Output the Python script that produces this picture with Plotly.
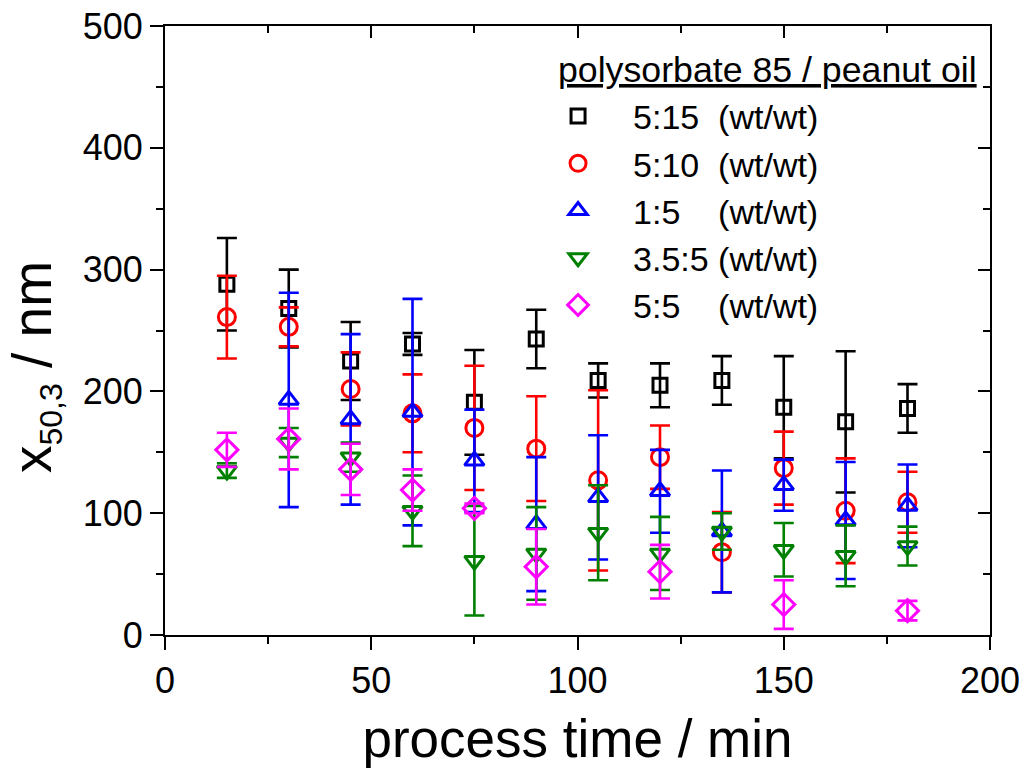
import plotly.graph_objects as go

# ---- data ----
times = [15, 30, 45, 60, 75, 90, 105, 120, 135, 150, 165, 180]

names = ["5:15\u00a0\u00a0(wt/wt)", "5:10\u00a0\u00a0(wt/wt)", "1:5\u00a0\u00a0\u00a0\u00a0(wt/wt)",
         "3.5:5\u00a0(wt/wt)", "5:5\u00a0\u00a0\u00a0\u00a0(wt/wt)"]

v_5_15 = [288, 268, 225, 239, 191, 243, 209, 205, 209, 187, 175, 186]
e_5_15 = [38, 32, 32, 9, 43, 24, 14, 18, 20, 42, 58, 20]

v_5_10 = [261, 253, 202, 182, 170, 153, 127, 146, 68, 137, 102, 109]
e_5_10 = [34, 16, 30, 32, 51, 43, 74, 26, 33, 30, 43, 25]

v_1_5 = [None, 193, 177, 183, 143, 91, 113, 118, 85, 123, 94, 106]
e_1_5 = [None, 88, 70, 93, 42, 55, 51, 34, 50, 21, 48, 34]

v_35_5 = [135, 158, 146, 102, 61, 67, 84, 67, 85, 70, 65, 73]
e_35_5 = [6, 12, 12, 29, 45, 38, 39, 30, 15, 22, 25, 16]

v_5_5 = [152, 161, 136, 119, 104, 56, None, 52, None, 25, None, 20]
e_5_5 = [14, 25, 21, 17, 4, 31, None, 22, None, 20, None, 8]

values = [v_5_15, v_5_10, v_1_5, v_35_5, v_5_5]
errors = [e_5_15, e_5_10, e_1_5, e_35_5, e_5_5]

colors = ["#000000", "#FF0000", "#0000FF", "#008000", "#FF00FF"]
symbols = ["square-open", "circle-open", "triangle-up-open", "triangle-down-open", "diamond-open"]
sizes = [14, 17, 17, 17, 17]

FONT = "Liberation Sans, Arial, sans-serif"

fig = go.Figure()
for name, v, e, c, s, sz in zip(names, values, errors, colors, symbols, sizes):
    fig.add_trace(go.Scatter(
        x=times, y=v, name=name, mode="markers",
        marker=dict(symbol=s, size=sz, color=c, line=dict(width=3, color=c)),
        error_y=dict(type="data", array=[0 if a is None else a for a in e],
                     visible=True, color=c, thickness=2.6, width=10),
    ))

# empty trace so mirrored (top/right) axes are drawn
fig.add_trace(go.Scatter(x=[], y=[], xaxis="x2", yaxis="y2", showlegend=False, hoverinfo="skip"))

axis_common = dict(showgrid=False, zeroline=False, showline=True, linewidth=2, linecolor="black",
                   tickcolor="black", tickwidth=2, automargin=False)

fig.update_layout(
    width=1026, height=773,
    margin=dict(l=165, r=36, t=26, b=138, autoexpand=False),
    paper_bgcolor="white", plot_bgcolor="white",
    font=dict(family=FONT, color="black"),
    xaxis=dict(range=[0, 200], tick0=0, dtick=50, ticks="outside", ticklen=13,
               minor=dict(dtick=25, ticks="outside", ticklen=7, tickwidth=2, tickcolor="black"),
               tickfont=dict(size=36, family=FONT),
               title=dict(text="process time / min", font=dict(size=53, family=FONT), standoff=20),
               **axis_common),
    yaxis=dict(range=[0, 500], tick0=0, dtick=100, ticks="outside", ticklen=13,
               minor=dict(dtick=50, ticks="outside", ticklen=7, tickwidth=2, tickcolor="black"),
               tickfont=dict(size=36, family=FONT),
               **axis_common),
    xaxis2=dict(range=[0, 200], overlaying="x", side="top", anchor="y", tick0=0, dtick=50,
                ticks="inside", ticklen=12, showticklabels=False,
                minor=dict(dtick=25, ticks="inside", ticklen=7, tickwidth=2, tickcolor="black"),
                **axis_common),
    yaxis2=dict(range=[0, 500], overlaying="y", side="right", anchor="x", tick0=0, dtick=100,
                ticks="inside", ticklen=12, showticklabels=False,
                minor=dict(dtick=50, ticks="inside", ticklen=7, tickwidth=2, tickcolor="black"),
                **axis_common),
    showlegend=True,
    legend=dict(x=0.434, xanchor="left", y=0.899, yanchor="top",
                bgcolor="rgba(0,0,0,0)", borderwidth=0, itemwidth=100,
                font=dict(size=34, family=FONT)),
    annotations=[
        dict(text="polysorbate 85 / peanut oil", xref="paper", yref="paper",
             x=0.474, y=0.928, xanchor="left", yanchor="middle", showarrow=False,
             font=dict(size=35.7, family=FONT, lineposition="under")),
        dict(text="x<sub><span style='font-size:32px'>50,3</span></sub> / nm",
             xref="paper", yref="paper", x=-0.1576, y=0.44, xanchor="center", yanchor="middle",
             textangle=-90, showarrow=False, font=dict(size=55, family=FONT)),
    ],
)

fig.write_html("out.html")
